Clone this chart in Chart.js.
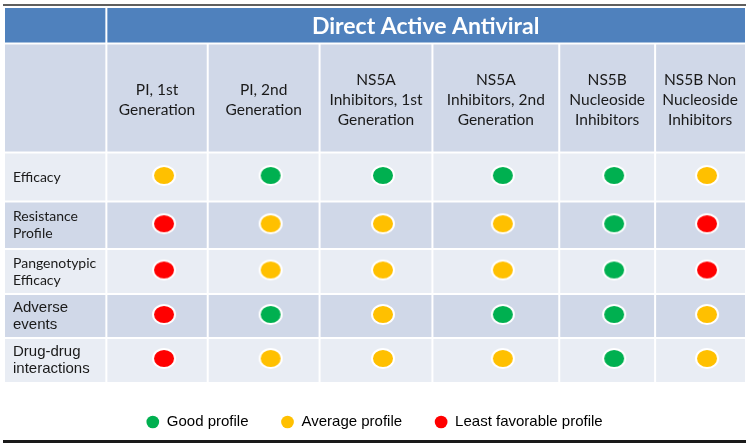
<!DOCTYPE html>
<html>
<head>
<meta charset="utf-8">
<title>Direct Active Antiviral</title>
<script src="https://cdn.jsdelivr.net/npm/chart.js@4.4.1/dist/chart.umd.min.js"></script>
<style>
  html, body { margin: 0; padding: 0; background: #fff; }
  canvas { display: block; }
</style>
</head>
<body>
<canvas id="profileChart" width="750" height="447"></canvas>
<script>
// -- data -- //
const tableTitle = 'Direct Active Antiviral';

const drugClasses = [
    ['PI, 1st', 'Generation'],
    ['PI, 2nd', 'Generation'],
    ['NS5A', 'Inhibitors, 1st', 'Generation'],
    ['NS5A', 'Inhibitors, 2nd', 'Generation'],
    ['NS5B', 'Nucleoside', 'Inhibitors'],
    ['NS5B Non', 'Nucleoside', 'Inhibitors']
];

const attributes = [
    ['Efficacy'],
    ['Resistance', 'Profile'],
    ['Pangenotypic', 'Efficacy'],
    ['Adverse', 'events'],
    ['Drug-drug', 'interactions']
];

// rating of each class, in the order of attributes
const piGen1   = ['average', 'least', 'least', 'least', 'least'];
const piGen2   = ['good', 'average', 'average', 'good', 'average'];
const ns5aGen1 = ['good', 'average', 'average', 'average', 'average'];
const ns5aGen2 = ['good', 'average', 'average', 'good', 'average'];
const ns5bNuc  = ['good', 'good', 'good', 'good', 'good'];
const ns5bNon  = ['average', 'least', 'least', 'average', 'average'];

const levels = ['good', 'average', 'least'];
const levelLabels = ['Good profile', 'Average profile', 'Least favorable profile'];

// -- layout & styles -- //
const colWidths  = [101.5, 101.5, 112, 113, 127, 96, 90];   // label column + 6 classes
const rowHeights = [35.5, 109, 49, 47.5, 45, 44, 44];       // title, class names, 5 attributes
const dotOffsetX = 7;
const dotOffsetY = -1.5;
const levelColors = ['#00b050', '#ffc000', '#ff0000'];
const headerBlue = '#4f81bd';
const rowFills = [headerBlue, '#d0d8e8', '#e9edf4', '#d0d8e8', '#e9edf4', '#d0d8e8', '#e9edf4'];
const rowLabelFonts = ['14px Lato', '14px Lato', '14px Lato', '15px "Liberation Sans"', '15px "Liberation Sans"'];

const ratings = [piGen1, piGen2, ns5aGen1, ns5aGen2, ns5bNuc, ns5bNon];

const colEdges = [0];
colWidths.forEach(w => colEdges.push(colEdges[colEdges.length - 1] + w));
const rowEdges = [0];
rowHeights.forEach(h => rowEdges.push(rowEdges[rowEdges.length - 1] + h));
const colCenter = i => (colEdges[i] + colEdges[i + 1]) / 2;
const rowCenter = i => (rowEdges[i] + rowEdges[i + 1]) / 2;

// ellipse marker with a white rim
function makeDot(color) {
    const c = document.createElement('canvas');
    c.width = 26;
    c.height = 23;
    const g = c.getContext('2d');
    g.beginPath();
    g.ellipse(13, 11.5, 11, 9.5, 0, 0, Math.PI * 2);
    g.fillStyle = color;
    g.fill();
    g.lineWidth = 2;
    g.strokeStyle = '#ffffff';
    g.stroke();
    return c;
}

const datasets = levels.map((lvl, li) => ({
    label: levelLabels[li],
    data: [],
    pointStyle: makeDot(levelColors[li]),
    backgroundColor: levelColors[li],
    borderColor: levelColors[li],
    clip: false
}));
ratings.forEach((column, ci) => {
    column.forEach((rating, ri) => {
        datasets[levels.indexOf(rating)].data.push({
            x: colCenter(ci + 1) + dotOffsetX,
            y: rowCenter(ri + 2) + dotOffsetY
        });
    });
});

// table cells and texts, drawn under the dots
const tablePlugin = {
    id: 'tableGrid',
    beforeDatasetsDraw(chart) {
        const {ctx, scales: {x, y}} = chart;
        const lastCol = colWidths.length - 1;
        const lastRow = rowHeights.length - 1;
        ctx.save();

        rowHeights.forEach((h, r) => {
            const top = y.getPixelForValue(rowEdges[r]) + (r > 0 ? 1 : 0);
            const bottom = y.getPixelForValue(rowEdges[r + 1]) - (r < lastRow ? 1 : 0);
            ctx.fillStyle = rowFills[r];
            if (r === 0) {
                // title row: label cell + one merged cell
                const spans = [[0, 1], [1, colWidths.length]];
                spans.forEach(([a, b]) => {
                    const left = x.getPixelForValue(colEdges[a]) + (a > 0 ? 1 : 0);
                    const right = x.getPixelForValue(colEdges[b]) - (b <= lastCol ? 1 : 0);
                    ctx.fillRect(left, top, right - left, bottom - top);
                });
                return;
            }
            colWidths.forEach((w, c) => {
                const left = x.getPixelForValue(colEdges[c]) + (c > 0 ? 1 : 0);
                const right = x.getPixelForValue(colEdges[c + 1]) - (c < lastCol ? 1 : 0);
                ctx.fillRect(left, top, right - left, bottom - top);
            });
        });

        ctx.textBaseline = 'middle';

        // title
        ctx.fillStyle = '#ffffff';
        ctx.font = 'bold 23px Lato';
        ctx.textAlign = 'center';
        ctx.fillText(tableTitle,
            (x.getPixelForValue(colEdges[1]) + x.getPixelForValue(colEdges[colEdges.length - 1])) / 2,
            y.getPixelForValue(rowCenter(0)) + 0.5);

        // class names
        ctx.fillStyle = '#1a1a1a';
        ctx.font = '15.5px Lato';
        drugClasses.forEach((lines, i) => {
            const cx = x.getPixelForValue(colCenter(i + 1));
            const cy = y.getPixelForValue(rowCenter(1)) + 1.5;
            lines.forEach((line, k) => {
                ctx.fillText(line, cx, cy + (k - (lines.length - 1) / 2) * 20);
            });
        });

        // attribute names
        ctx.textAlign = 'left';
        attributes.forEach((lines, i) => {
            ctx.font = rowLabelFonts[i];
            const cy = y.getPixelForValue(rowCenter(i + 2));
            lines.forEach((line, k) => {
                ctx.fillText(line, x.getPixelForValue(colEdges[0]) + 8, cy + (k - (lines.length - 1) / 2) * 17);
            });
        });
        ctx.restore();
    },
    afterDraw(chart) {
        const {ctx, width} = chart;
        ctx.save();
        ctx.fillStyle = '#5f5f5f';
        ctx.fillRect(3, 4, width - 7, 2);
        ctx.fillStyle = '#1a1a1a';
        ctx.fillRect(3, 440, width - 7, 3);
        ctx.restore();
    }
};

new Chart(document.getElementById('profileChart'), {
    type: 'scatter',
    data: { datasets: datasets },
    options: {
        responsive: false,
        devicePixelRatio: 1,
        animation: false,
        events: [],
        layout: {
            padding: { top: 8, left: 4, right: 5, bottom: 7.5 }
        },
        scales: {
            x: {
                type: 'linear',
                display: false,
                min: 0,
                max: colEdges[colEdges.length - 1]
            },
            y: {
                type: 'linear',
                display: false,
                reverse: true,
                min: 0,
                max: rowEdges[rowEdges.length - 1]
            }
        },
        plugins: {
            tooltip: { enabled: false },
            legend: {
                position: 'bottom',
                labels: {
                    usePointStyle: true,
                    boxWidth: 13,
                    boxHeight: 9,
                    padding: 32.5,
                    color: '#111111',
                    font: { family: '"Liberation Sans", Arial, sans-serif', size: 15 },
                    generateLabels(chart) {
                        return chart.data.datasets.map((ds, i) => ({
                            text: ds.label,
                            fillStyle: levelColors[i],
                            strokeStyle: levelColors[i],
                            lineWidth: 0,
                            pointStyle: 'circle',
                            datasetIndex: i,
                            hidden: false
                        }));
                    }
                }
            }
        }
    },
    plugins: [tablePlugin]
});
</script>
</body>
</html>
